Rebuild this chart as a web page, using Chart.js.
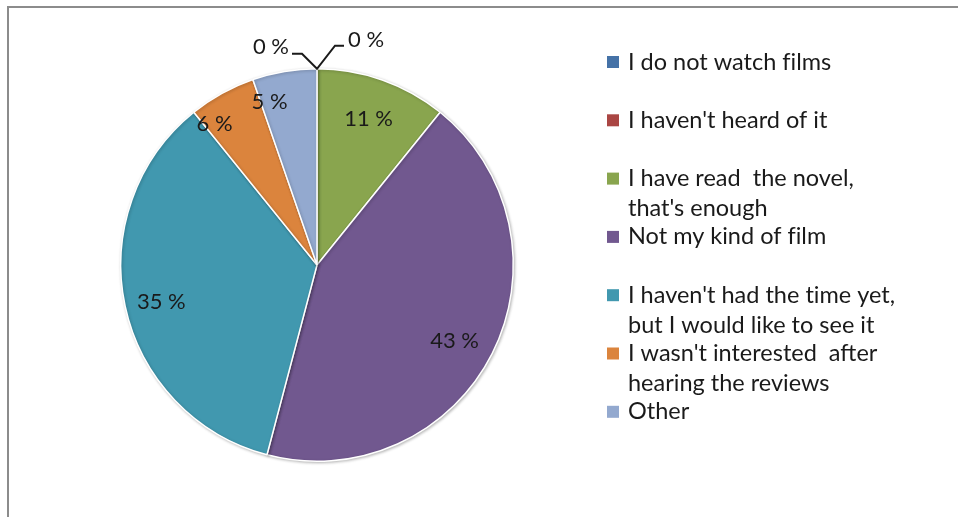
<!DOCTYPE html>
<html>
<head>
<meta charset="utf-8">
<script src="https://cdn.jsdelivr.net/npm/chart.js@4.4.0/dist/chart.umd.min.js"></script>
<style>
  html, body { margin: 0; padding: 0; background: #ffffff; }
  #wrap { position: relative; width: 958px; height: 517px; }
  canvas { display: block; }
</style>
</head>
<body>
<div id="wrap"><canvas id="c" width="958" height="517"></canvas></div>
<script>
// ---- data ----
const categories = [
  ["I do not watch films"],
  ["I haven't heard of it"],
  ["I have read  the novel,", "that's enough"],
  ["Not my kind of film"],
  ["I haven't had the time yet,", "but I would like to see it"],
  ["I wasn't interested  after", "hearing the reviews"],
  ["Other"]
];
const percentValues = [0, 0, 10.8, 43.3, 35.1, 5.5, 5.3];
const sliceColors = ["#4572A7", "#AA4643", "#89A54E", "#71588F", "#4198AF", "#DB843D", "#93A9CF"];

const FONT = "Lato, 'Open Sans', sans-serif";
const noLig = s => s.replace(/t(?=i)/g, 't\u200C').replace(/f(?=[il])/g, 'f\u200C');

// frame
const framePlugin = {
  id: 'frame',
  beforeDraw(chart) {
    const ctx = chart.ctx;
    ctx.save();
    ctx.fillStyle = '#ffffff';
    ctx.fillRect(0, 0, chart.width, chart.height);
    ctx.strokeStyle = '#8c8c8c';
    ctx.lineWidth = 2;
    ctx.beginPath();
    ctx.moveTo(8, 517);
    ctx.lineTo(8, 7);
    ctx.lineTo(958, 7);
    ctx.stroke();
    ctx.restore();
  }
};

// soft shadow behind pie
const shadowPlugin = {
  id: 'shadow',
  beforeDatasetsDraw(chart) {
    const ctx = chart.ctx;
    ctx.save();
    ctx.shadowColor = 'rgba(0,0,0,0.25)';
    ctx.shadowBlur = 3;
    ctx.shadowOffsetX = 1;
    ctx.shadowOffsetY = 1;
  },
  afterDatasetsDraw(chart) {
    chart.ctx.restore();
  }
};

// label anchor fraction along each arc, and radius fraction
const labelAlong = [0.5, 0.5, 0.5, 0.513, 0.49, 0.15, 0.15];
const labelRadius = [0.79, 0.8, 0.79, 0.8, 0.815, 0.89, 0.865];

const labelPlugin = {
  id: 'pctLabels',
  afterDatasetsDraw(chart) {
    const ctx = chart.ctx;
    const meta = chart.getDatasetMeta(0);
    const vals = chart.data.datasets[0].data;
    ctx.save();
    ctx.font = "22px " + FONT;
    ctx.fillStyle = '#1a1a1a';
    ctx.textBaseline = 'middle';
    meta.data.forEach((arc, i) => {
      const p = arc.getProps(['x', 'y', 'startAngle', 'endAngle', 'outerRadius'], true);
      const txt = Math.round(vals[i]) + ' %';
      if (vals[i] > 0) {
        const a = p.startAngle + (p.endAngle - p.startAngle) * labelAlong[i];
        const r = p.outerRadius * labelRadius[i];
        ctx.textAlign = 'center';
        ctx.fillText(txt, p.x + Math.cos(a) * r, p.y + Math.sin(a) * r);
      }
    });
    // zero-value labels with leader lines at the top of the pie
    const arc0 = meta.data[0].getProps(['x', 'y', 'startAngle', 'outerRadius'], true);
    const tx = arc0.x + Math.cos(arc0.startAngle) * arc0.outerRadius;
    const ty = arc0.y + Math.sin(arc0.startAngle) * arc0.outerRadius;
    ctx.strokeStyle = '#1a1a1a';
    ctx.lineWidth = 2;
    ctx.beginPath();
    ctx.moveTo(tx - 25, ty - 15);
    ctx.lineTo(tx - 15, ty - 15);
    ctx.lineTo(tx, ty);
    ctx.lineTo(tx + 18, ty - 23);
    ctx.lineTo(tx + 27, ty - 23);
    ctx.stroke();
    ctx.textAlign = 'right';
    ctx.fillText(Math.round(vals[0]) + ' %', tx - 28, ty - 22);
    ctx.textAlign = 'left';
    ctx.fillText(Math.round(vals[1]) + ' %', tx + 31, ty - 29);
    ctx.restore();
  }
};

// legend on the right
const legendPlugin = {
  id: 'rightLegend',
  afterDraw(chart) {
    const ctx = chart.ctx;
    const labels = chart.data.labels;
    const colors = chart.data.datasets[0].backgroundColor;
    ctx.save();
    ctx.font = "23.5px " + FONT;
    ctx.fillStyle = '#1a1a1a';
    ctx.textBaseline = 'middle';
    ctx.textAlign = 'left';
    labels.forEach((lines, i) => {
      const y = 62 + i * 58.3;
      ctx.fillStyle = colors[i];
      ctx.fillRect(607, y - 6, 12, 12);
      ctx.fillStyle = '#1a1a1a';
      lines.forEach((ln, k) => {
        ctx.fillText(noLig(ln), 628, y + k * 30);
      });
    });
    ctx.restore();
  }
};

new Chart(document.getElementById('c'), {
  type: 'pie',
  data: {
    labels: categories,
    datasets: [{
      data: percentValues,
      backgroundColor: sliceColors,
      borderColor: '#ffffff',
      borderWidth: 1.5
    }]
  },
  options: {
    responsive: false,
    animation: false,
    events: [],
    layout: { padding: { left: 120, right: 444, top: 68, bottom: 55 } },
    plugins: {
      legend: { display: false },
      tooltip: { enabled: false }
    }
  },
  plugins: [framePlugin, shadowPlugin, labelPlugin, legendPlugin]
});
</script>
</body>
</html>
